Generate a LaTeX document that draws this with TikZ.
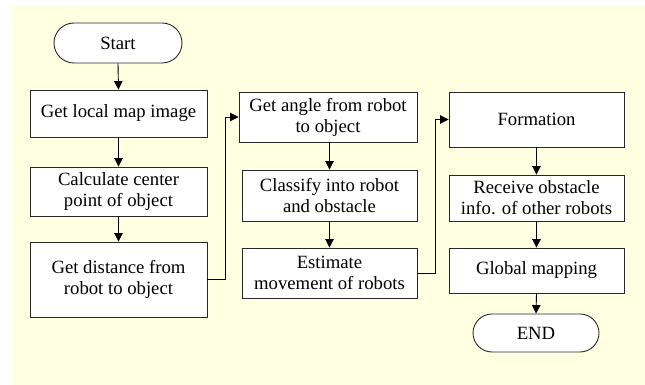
\documentclass[tikz,border=0pt]{standalone}
\usepackage{fontspec}
\setmainfont{Liberation Serif}
\usetikzlibrary{shapes.misc,arrows.meta}
\definecolor{bgyellow}{RGB}{255,255,226}
\definecolor{edgegray}{RGB}{40,40,40}
\begin{document}
\begin{tikzpicture}[x=1pt,y=-1pt,
  stepbox/.style={draw=edgegray,line width=0.9pt,fill=white,align=center,inner sep=0pt,
    font=\fontsize{18.7}{21}\selectfont},
  termbox/.style={rounded rectangle,draw=edgegray,line width=0.9pt,fill=white,inner sep=0pt,
    font=\fontsize{18.7}{21}\selectfont},
  arr/.style={draw=black,line width=0.9pt,-{Triangle[length=8.5pt,width=8.5pt]}}]
\useasboundingbox (0,0) rectangle (645,385);
\fill[bgyellow] (12,6) rectangle (645,385);
\node[termbox,minimum width=128pt,minimum height=40pt] (start) at (118,43) {Start};
\node[stepbox,minimum width=177pt,minimum height=47pt] (b1) at (118.5,113.5) {Get local map image};
\node[stepbox,minimum width=177pt,minimum height=49pt] (b2) at (118.5,191.5) {Calculate center\\point of object};
\node[stepbox,minimum width=177pt,minimum height=75pt] (b3) at (118.5,279.5) {Get distance from\\robot to object};
\node[stepbox,minimum width=178pt,minimum height=50pt] (b4) at (328,117) {Get angle from robot\\to object};
\node[stepbox,minimum width=175pt,minimum height=51pt] (b5) at (329.5,195.5) {Classify into robot\\and obstacle};
\node[stepbox,minimum width=175pt,minimum height=50pt] (b6) at (329.5,273) {Estimate\\movement of robots};
\node[stepbox,minimum width=175pt,minimum height=55pt] (b7) at (536.5,119.5) {Formation};
\node[stepbox,minimum width=175pt,minimum height=46pt] (b8) at (536.5,198) {Receive obstacle\\info. of other robots};
\node[stepbox,minimum width=175pt,minimum height=45pt] (b9) at (536.5,270.5) {Global mapping};
\node[termbox,minimum width=126pt,minimum height=38pt] (end) at (536,333) {END};
\draw[arr] (start.south) -- (b1.north);
\draw[arr] (b1.south) -- (b2.north);
\draw[arr] (b2.south) -- (b3.north);
\draw[arr] (b3.east) -- ++(18,0) |- (b4.west);
\draw[arr] (b5.north |- b4.south) -- (b5.north);
\draw[arr] (b5.south) -- (b6.north);
\draw[arr] (b6.east) -- ++(18,0) |- (b7.west);
\draw[arr] (b7.south) -- (b8.north);
\draw[arr] (b8.south) -- (b9.north);
\draw[arr] (b9.south) -- (end.north);
\end{tikzpicture}
\end{document}
